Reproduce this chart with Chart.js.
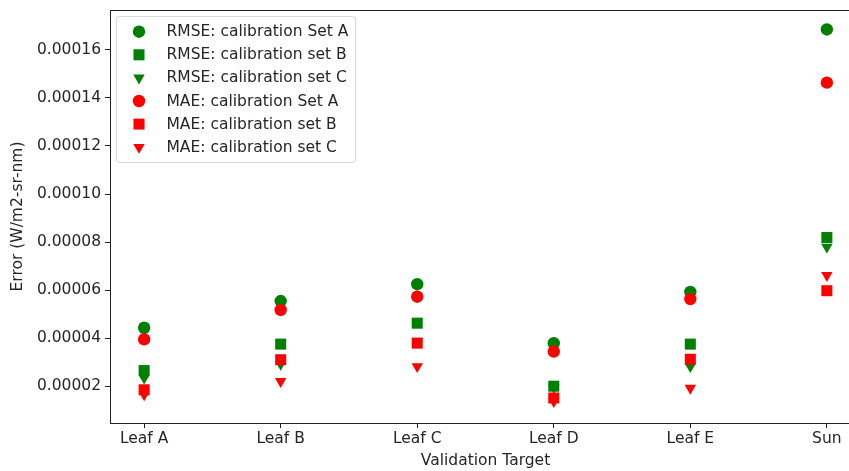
<!DOCTYPE html>
<html>
<head>
<meta charset="utf-8">
<script src="https://cdn.jsdelivr.net/npm/chart.js@4.4.1/dist/chart.umd.min.js"></script>
<style>
  html, body { margin: 0; padding: 0; overflow: hidden; background: #fff; }
  #wrap { width: 875px; height: 471px; }
</style>
</head>
<body>
<div id="wrap"><canvas id="chart" width="875" height="471"></canvas></div>
<script>
// categories on the x axis
const targets = ["Leaf A", "Leaf B", "Leaf C", "Leaf D", "Leaf E", "Sun"];

// error values
const rmseSetA = [0.0000444, 0.0000555, 0.0000625, 0.0000380, 0.0000593, 0.0001684];
const rmseSetB = [0.0000266, 0.0000376, 0.0000463, 0.0000201, 0.0000376, 0.0000819];
const rmseSetC = [0.0000235, 0.0000293, 0.0000387, 0.0000196, 0.0000283, 0.0000780];
const maeSetA = [0.0000396, 0.0000518, 0.0000573, 0.0000345, 0.0000563, 0.0001463];
const maeSetB = [0.0000186, 0.0000311, 0.0000380, 0.0000152, 0.0000313, 0.0000598];
const maeSetC = [0.0000166, 0.0000221, 0.0000283, 0.0000138, 0.0000193, 0.0000662];

const yTicks = [0.00002, 0.00004, 0.00006, 0.00008, 0.00010, 0.00012, 0.00014, 0.00016];

const GREEN = "#008000";
const RED = "#ff0000";
const TEXT = "#262626";
const FONT = "'DejaVu Sans', sans-serif";
const FSIZE = 15.5;

// marker look per calibration set
const markers = {
    A: { style: "circle", radius: 6.2, rotation: 0 },
    B: { style: "rect", radius: 7.8, rotation: 0 },
    C: { style: "triangle", radius: 6.6, rotation: 180 },
};

const series = [
    { label: "RMSE: calibration Set A", values: rmseSetA, color: GREEN, m: markers.A },
    { label: "RMSE: calibration set B", values: rmseSetB, color: GREEN, m: markers.B },
    { label: "RMSE: calibration set C", values: rmseSetC, color: GREEN, m: markers.C },
    { label: "MAE: calibration Set A", values: maeSetA, color: RED, m: markers.A },
    { label: "MAE: calibration set B", values: maeSetB, color: RED, m: markers.B },
    { label: "MAE: calibration set C", values: maeSetC, color: RED, m: markers.C },
];

// draws the same shapes Chart.js uses, for the legend
function drawMarker(ctx, m, color, x, y) {
    ctx.save();
    ctx.fillStyle = color;
    ctx.beginPath();
    if (m.style === "circle") {
        ctx.arc(x, y, m.radius, 0, Math.PI * 2);
    } else if (m.style === "rect") {
        const s = m.radius * Math.SQRT1_2;
        ctx.rect(x - s, y - s, 2 * s, 2 * s);
    } else {
        let rad = m.rotation * Math.PI / 180;
        ctx.moveTo(x + Math.sin(rad) * m.radius, y - Math.cos(rad) * m.radius);
        rad += 2 * Math.PI / 3;
        ctx.lineTo(x + Math.sin(rad) * m.radius, y - Math.cos(rad) * m.radius);
        rad += 2 * Math.PI / 3;
        ctx.lineTo(x + Math.sin(rad) * m.radius, y - Math.cos(rad) * m.radius);
        ctx.closePath();
    }
    ctx.fill();
    ctx.restore();
}

// frame around the plot area + legend box inside it
const framePlugin = {
    id: "frame",
    afterDraw(chart) {
        const { ctx, chartArea: a } = chart;
        ctx.save();
        ctx.strokeStyle = "#222";
        ctx.lineWidth = 1;
        ctx.strokeRect(Math.round(a.left) + 0.5, Math.round(a.top) + 0.5,
            Math.round(a.right - a.left), Math.round(a.bottom - a.top));

        // legend
        const bx = a.left + 6.5, by = a.top + 6.5, bw = 239, bh = 146;
        ctx.beginPath();
        ctx.roundRect(bx, by, bw, bh, 3);
        ctx.fillStyle = "rgba(255,255,255,0.8)";
        ctx.fill();
        ctx.strokeStyle = "rgba(204,204,204,0.8)";
        ctx.stroke();

        ctx.font = FSIZE + "px " + FONT;
        ctx.textBaseline = "middle";
        series.forEach((s, i) => {
            const y = by + 15.2 + i * 23.1;
            drawMarker(ctx, s.m, s.color, bx + 22.5, y);
            ctx.fillStyle = TEXT;
            ctx.fillText(s.label, bx + 50, y + 0.5);
        });
        ctx.restore();
    },
};

const datasets = series.map((s, i) => ({
    label: s.label,
    data: s.values.map((v, k) => ({ x: k, y: v })),
    showLine: false,
    pointStyle: s.m.style,
    pointRadius: s.m.radius,
    pointHoverRadius: s.m.radius,
    pointRotation: s.m.rotation,
    pointBackgroundColor: s.color,
    pointBorderWidth: 0,
    borderColor: s.color,
    backgroundColor: s.color,
    order: series.length - i, // later series on top, like matplotlib
}));

new Chart(document.getElementById("chart"), {
    type: "scatter",
    data: { datasets: datasets },
    options: {
        responsive: false,
        animation: false,
        events: [],
        layout: { padding: { left: 0, top: 10, right: 14, bottom: 0 } },
        plugins: {
            legend: { display: false },
            tooltip: { enabled: false },
        },
        scales: {
            x: {
                type: "linear",
                min: -0.25,
                max: 5.25,
                afterBuildTicks: (scale) => {
                    scale.ticks = targets.map((t, i) => ({ value: i }));
                },
                afterFit: (scale) => {
                    scale.height = 48;
                    scale.paddingLeft = 0;
                    scale.paddingRight = 0;
                },
                grid: { drawOnChartArea: false, drawTicks: true, tickLength: 5, color: "#222" },
                border: { display: true, color: "#222" },
                ticks: {
                    autoSkip: false,
                    maxRotation: 0,
                    padding: 2,
                    color: TEXT,
                    font: { family: FONT, size: FSIZE },
                    callback: (v) => targets[v],
                },
                title: {
                    display: true,
                    text: "Validation Target",
                    color: TEXT,
                    font: { family: FONT, size: FSIZE },
                    padding: { top: 0, bottom: 1 },
                },
            },
            y: {
                min: 0.0000048,
                max: 0.0001765,
                afterBuildTicks: (scale) => {
                    scale.ticks = yTicks.map((v) => ({ value: v }));
                },
                afterFit: (scale) => {
                    scale.width = 110;
                    scale.paddingTop = 0;
                    scale.paddingBottom = 0;
                },
                grid: { drawOnChartArea: false, drawTicks: true, tickLength: 5, color: "#222" },
                border: { display: true, color: "#222" },
                ticks: {
                    autoSkip: false,
                    padding: 4,
                    color: TEXT,
                    font: { family: FONT, size: FSIZE },
                    callback: (v) => v.toFixed(5),
                },
                title: {
                    display: true,
                    text: "Error (W/m2-sr-nm)",
                    color: TEXT,
                    font: { family: FONT, size: FSIZE },
                    padding: { top: 9, bottom: 0 },
                },
            },
        },
    },
    plugins: [framePlugin],
});
</script>
</body>
</html>
